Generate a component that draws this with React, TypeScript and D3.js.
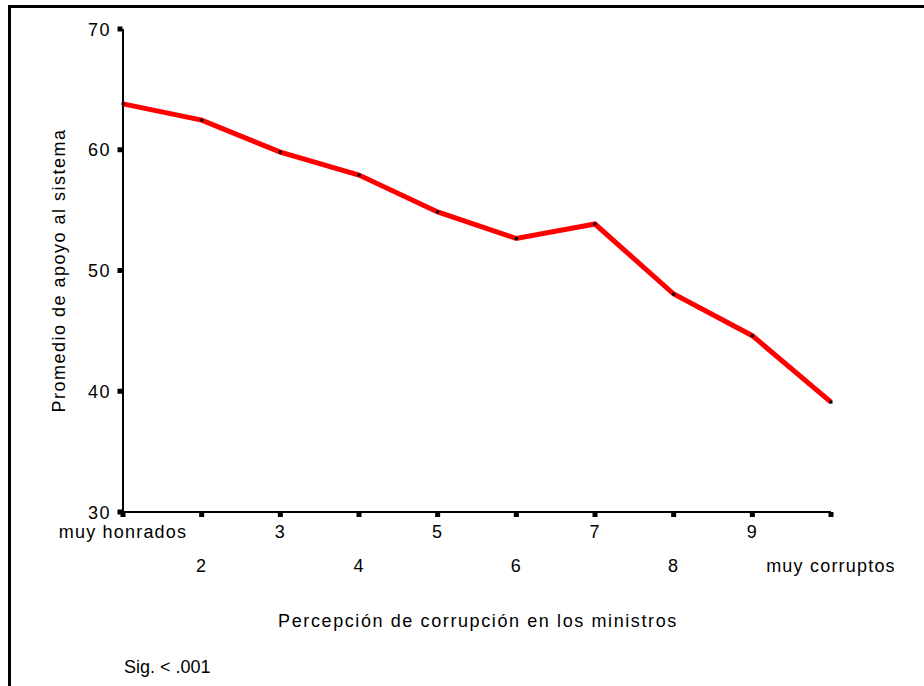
import React from "react";
import * as d3 from "d3";

const categories = ["muy honrados", "2", "3", "4", "5", "6", "7", "8", "9", "muy corruptos"];
const values = [63.8, 62.45, 59.8, 57.9, 54.85, 52.65, 53.85, 48.05, 44.6, 39.1];
const yTicks = [30, 40, 50, 60, 70];
const yTitle = "Promedio de apoyo al sistema";
const xTitle = "Percepción de corrupción en los ministros";
const note = "Sig. < .001";

const W = 924;
const H = 686;
const left = 123;
const right = 831;
const top = 29;
const bottom = 512;
const FONT = "'Liberation Sans', Arial, sans-serif";

export default function App() {
  const x = d3.scalePoint<string>().domain(categories).range([left, right]);
  const y = d3.scaleLinear().domain([30, 70]).range([bottom, top]);
  const line = d3
    .line<number>()
    .x((_, i) => x(categories[i]) as number)
    .y((d) => y(d));

  return (
    <svg
      width={W}
      height={H}
      style={{ position: "absolute", left: 0, top: 0, background: "#fff" }}
      fontFamily={FONT}
    >
      <rect x={0} y={0} width={W} height={H} fill="#fff" />
      <rect x={9.5} y={6.5} width={W + 20} height={H + 20} fill="none" stroke="#000" strokeWidth={3} />

      {/* axes */}
      <line x1={left} x2={left} y1={y(70)} y2={y(30)} stroke="#000" strokeWidth={2} />
      <line x1={left} x2={right} y1={bottom} y2={bottom} stroke="#000" strokeWidth={2} />

      {yTicks.map((t) => (
        <g key={"y" + t}>
          <rect x={left - 5.5} y={y(t) - 2.5} width={5} height={5} fill="#000" />
          <text
            x={111}
            y={y(t) + 6.5}
            textAnchor="end"
            fontSize={18}
            letterSpacing={1.5}
            fill="#000"
          >
            {t}
          </text>
        </g>
      ))}

      {categories.map((c, i) => {
        const cx = x(c) as number;
        const row = i % 2 === 0 ? 538 : 572;
        return (
          <g key={"x" + i}>
            <rect x={cx - 2.5} y={bottom} width={5} height={5} fill="#000" />
            <text
              x={cx}
              y={row}
              textAnchor="middle"
              fontSize={18}
              letterSpacing={1.2}
              fill="#000"
            >
              {c}
            </text>
          </g>
        );
      })}

      <path
        d={line(values) || ""}
        fill="none"
        stroke="#ff0000"
        strokeWidth={5}
        strokeLinejoin="miter"
      />
      {values.map((v, i) => (
        <rect
          key={"p" + i}
          x={(x(categories[i]) as number) - 1.5}
          y={y(v) - 1.5}
          width={3}
          height={3}
          fill="#000"
        />
      ))}

      <text
        transform={`translate(65, ${(top + bottom) / 2}) rotate(-90)`}
        textAnchor="middle"
        fontSize={18}
        letterSpacing={1.5}
        fill="#000"
      >
        {yTitle}
      </text>
      <text x={(left + right) / 2 + 1} y={627} textAnchor="middle" fontSize={18} letterSpacing={1.6} fill="#000">
        {xTitle}
      </text>
      <text x={124} y={673} fontSize={18} fill="#000">
        {note}
      </text>
    </svg>
  );
}
